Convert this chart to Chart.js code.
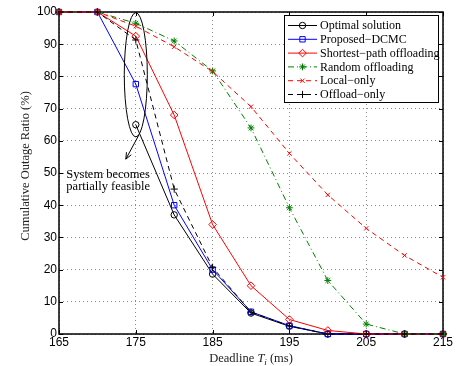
<!DOCTYPE html>
<html>
<head>
<meta charset="utf-8">
<script src="https://cdn.jsdelivr.net/npm/chart.js@4.4.1/dist/chart.umd.min.js"></script>
<style>
  html, body { margin: 0; padding: 0; background: #fff; }
  #wrap { width: 464px; height: 366px; }
</style>
</head>
<body>
<div id="wrap"><canvas id="outageChart" width="464" height="366"></canvas></div>
<script>
// Deadline T_i (ms) and cumulative outage ratio (%) per scheme
const deadlines   = [165, 170, 175, 180, 185, 190, 195, 200, 205, 210, 215];
const optimal     = [null, null, 65, 37, 18.6, 6.5, 2.4, 0, 0, 0, 0];
const proposed    = [100, 100, 77.6, 40, 20, 6.9, 2.6, 0, 0, 0, 0];
const shortest    = [100, 100, 92.5, 68, 34, 15, 4.5, 1.1, 0, 0, 0];
const randomOff   = [100, 100, 96.5, 91, 81.7, 64, 39.2, 16.6, 3.1, 0, 0];
const localOnly   = [100, 100, 95.6, 89.2, 81.5, 70.6, 56.1, 43.2, 32.8, 24.4, 17.6];
const offloadOnly = [100, 100, 91.3, 45, 20.7, 6.8, 2.5, 0, 0, 0, 0];

const seriesNames = ['Optimal solution', 'Proposed\u2212DCMC', 'Shortest\u2212path offloading',
                     'Random offloading', 'Local\u2212only', 'Offload\u2212only'];
const xTicks = [165, 175, 185, 195, 205, 215];

const SERIF = '"Liberation Serif", "Times New Roman", serif';
const SANS  = '"Liberation Sans", Arial, sans-serif';

const toPoints = vals => deadlines.map((d, i) => ({ x: d, y: vals[i] }));

function makeSet(label, vals, color, style, radius, dash, order) {
  return {
    label,
    data: toPoints(vals),
    borderColor: color,
    borderWidth: 1,
    borderDash: dash,
    pointStyle: style,
    pointRadius: radius,
    pointBorderColor: color,
    pointBackgroundColor: style === 'star' ? color : 'rgba(0,0,0,0)',
    pointBorderWidth: 1,
    fill: false,
    tension: 0,
    clip: false,
    order,
  };
}

const datasets = [
  makeSet(seriesNames[0], optimal,     '#000000', 'circle',   3.2, [],           6),
  makeSet(seriesNames[1], proposed,    '#0000ff', 'rect',     3.8, [],           5),
  makeSet(seriesNames[2], shortest,    '#ff0000', 'rectRot',  3.8, [],           4),
  makeSet(seriesNames[3], randomOff,   '#008000', 'star',     3.4, [6, 3, 1, 3], 3),
  makeSet(seriesNames[4], localOnly,   '#ff0000', 'crossRot', 3.0, [5, 4],       2),
  makeSet(seriesNames[5], offloadOnly, '#000000', 'cross',    3.6, [5, 4],       1),
];

// annotation: ellipse around T=175 with arrow and caption
const note = { cx: 175, cy: 80.5, rx: 1.5, ry: 19.3,
               arrowFrom: [175.4, 61.8], arrowTo: [173.7, 54.3],
               text: ['System becomes', 'partially feasible'], textX: 171.4, textY: [49.4, 45.8] };

// MATLAB-style box, inward ticks, axis titles, legend and annotation
const matlabLook = {
  id: 'matlabLook',
  beforeDatasetsDraw(chart) {
    const { ctx, chartArea: a, scales: { x, y } } = chart;
    ctx.save();
    ctx.strokeStyle = '#000';
    ctx.lineWidth = 1;
    ctx.beginPath();
    xTicks.forEach(v => {
      const px = Math.round(x.getPixelForValue(v)) + 0.5;
      ctx.moveTo(px, a.bottom); ctx.lineTo(px, a.bottom - 4);
      ctx.moveTo(px, a.top);    ctx.lineTo(px, a.top + 4);
    });
    y.ticks.forEach(t => {
      const py = Math.round(y.getPixelForValue(t.value)) + 0.5;
      ctx.moveTo(a.left, py);  ctx.lineTo(a.left + 4, py);
      ctx.moveTo(a.right, py); ctx.lineTo(a.right - 4, py);
    });
    ctx.stroke();
    ctx.lineWidth = 1.5;
    ctx.strokeRect(a.left, a.top, a.right - a.left, a.bottom - a.top);
    ctx.restore();
  },
  afterDraw(chart) {
    const { ctx, chartArea: a, scales: { x, y } } = chart;
    ctx.save();

    // y title
    ctx.fillStyle = '#222';
    ctx.font = '12.5px ' + SERIF;
    ctx.textAlign = 'center';
    ctx.textBaseline = 'middle';
    ctx.translate(26, (a.top + a.bottom) / 2 - 7);
    ctx.rotate(-Math.PI / 2);
    ctx.fillText('Cumulative Outage Ratio (%)', 0, 0);
    ctx.setTransform(1, 0, 0, 1, 0, 0);

    // x title with italic T and subscript i
    const parts = [
      { t: 'Deadline ', f: '12.5px ' + SERIF, dy: 0 },
      { t: 'T', f: 'italic 12.5px ' + SERIF, dy: 0 },
      { t: 'i', f: 'italic 9px ' + SERIF, dy: 3 },
      { t: ' (ms)', f: '12.5px ' + SERIF, dy: 0 },
    ];
    let total = 0;
    parts.forEach(p => { ctx.font = p.f; p.w = ctx.measureText(p.t).width; total += p.w; });
    let cx = (a.left + a.right) / 2 - total / 2;
    ctx.textAlign = 'left';
    ctx.textBaseline = 'alphabetic';
    parts.forEach(p => { ctx.font = p.f; ctx.fillText(p.t, cx, 362 + p.dy); cx += p.w; });

    // annotation
    ctx.strokeStyle = '#000';
    ctx.fillStyle = '#000';
    ctx.lineWidth = 1;
    const ex = x.getPixelForValue(note.cx), ey = y.getPixelForValue(note.cy);
    const erx = x.getPixelForValue(note.cx + note.rx) - ex;
    const ery = ey - y.getPixelForValue(note.cy + note.ry);
    ctx.beginPath();
    ctx.ellipse(ex, ey, erx, ery, 0, 0, Math.PI * 2);
    ctx.stroke();
    const x1 = x.getPixelForValue(note.arrowFrom[0]), y1 = y.getPixelForValue(note.arrowFrom[1]);
    const x2 = x.getPixelForValue(note.arrowTo[0]),   y2 = y.getPixelForValue(note.arrowTo[1]);
    const ang = Math.atan2(y2 - y1, x2 - x1);
    ctx.beginPath();
    ctx.moveTo(x1, y1); ctx.lineTo(x2, y2);
    ctx.moveTo(x2 - 7 * Math.cos(ang - 0.4), y2 - 7 * Math.sin(ang - 0.4));
    ctx.lineTo(x2, y2);
    ctx.lineTo(x2 - 7 * Math.cos(ang + 0.4), y2 - 7 * Math.sin(ang + 0.4));
    ctx.stroke();
    ctx.font = '12.5px ' + SERIF;
    ctx.textAlign = 'center';
    ctx.textBaseline = 'middle';
    note.text.forEach((s, i) => ctx.fillText(s, x.getPixelForValue(note.textX), y.getPixelForValue(note.textY[i])));

    // legend
    const lx = 284, ly = 15, lw = 154, lh = 87;
    ctx.fillStyle = '#fff';
    ctx.fillRect(lx, ly, lw, lh);
    ctx.lineWidth = 1;
    ctx.strokeStyle = '#000';
    ctx.strokeRect(lx + 0.5, ly + 0.5, lw, lh);
    ctx.font = '12px ' + SERIF;
    ctx.textAlign = 'left';
    ctx.textBaseline = 'middle';
    datasets.forEach((ds, i) => {
      const ry = ly + 10.5 + i * 13.8;
      ctx.save();
      ctx.strokeStyle = ds.borderColor;
      ctx.lineWidth = 1;
      ctx.setLineDash(ds.borderDash);
      ctx.beginPath();
      ctx.moveTo(lx + 4, ry); ctx.lineTo(lx + 33, ry);
      ctx.stroke();
      ctx.setLineDash([]);
      ctx.fillStyle = ds.pointBackgroundColor;
      Chart.helpers.drawPoint(ctx, { pointStyle: ds.pointStyle, radius: ds.pointRadius, borderWidth: 1, rotation: 0 },
                              lx + 18.5, ry);
      ctx.restore();
      ctx.fillStyle = '#000';
      ctx.fillText(ds.label, lx + 36, ry + 0.5);
    });
    ctx.restore();
  },
};

new Chart(document.getElementById('outageChart'), {
  type: 'line',
  data: { datasets },
  options: {
    responsive: false,
    animation: false,
    devicePixelRatio: 1,
    layout: { padding: { top: 12, right: 21, left: 0, bottom: 0 } },
    plugins: { legend: { display: false }, tooltip: { enabled: false } },
    scales: {
      x: {
        type: 'linear',
        min: 165, max: 215,
        ticks: { stepSize: 10, color: '#000', font: { family: SANS, size: 12 }, padding: 1, maxRotation: 0 },
        grid: { color: '#8a8a8a', lineWidth: 1, drawTicks: false },
        border: { display: false, dash: [1, 3] },
        afterFit(s) { s.height = 32; },
      },
      y: {
        min: 0, max: 100,
        ticks: { stepSize: 10, color: '#000', font: { family: SANS, size: 12 }, padding: 2 },
        grid: { color: '#8a8a8a', lineWidth: 1, drawTicks: false },
        border: { display: false, dash: [1, 3] },
        afterFit(s) { s.width = 59; },
      },
    },
  },
  plugins: [matlabLook],
});
</script>
</body>
</html>
